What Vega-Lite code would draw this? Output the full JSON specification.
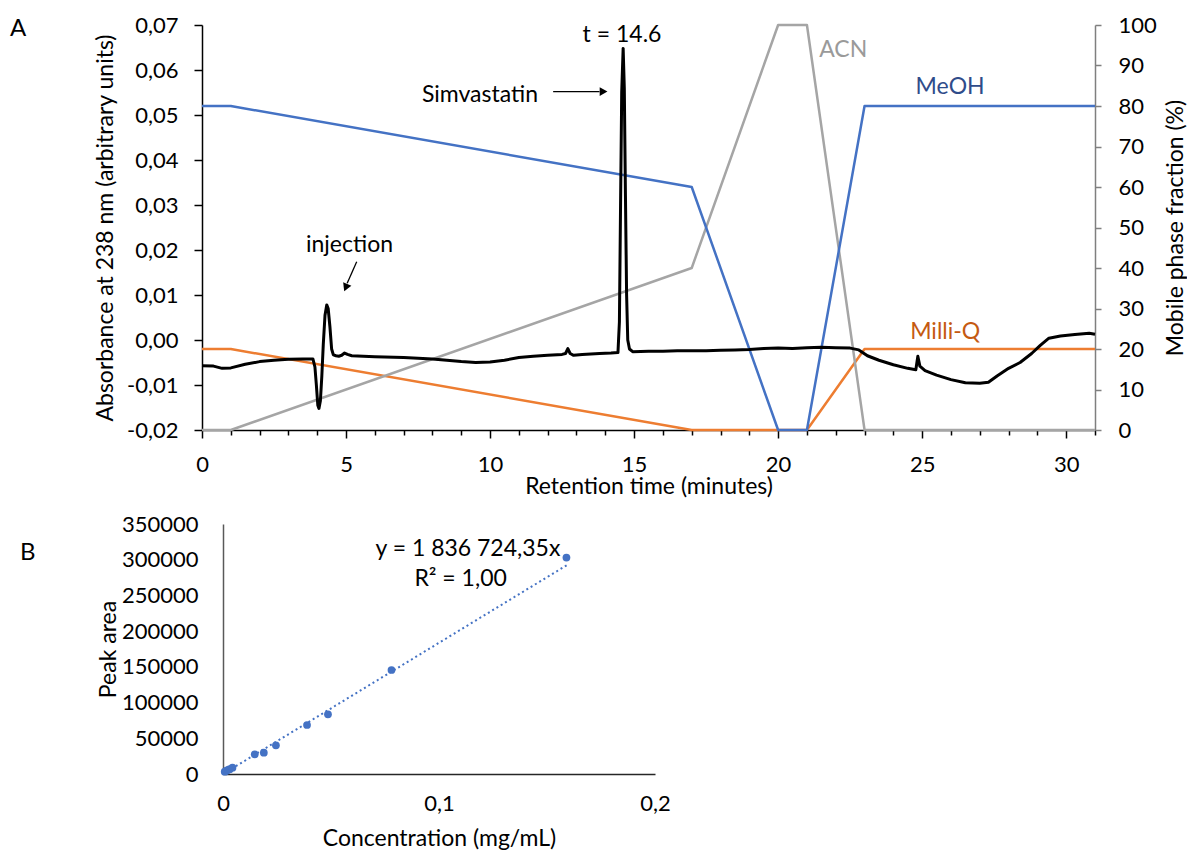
{
  "$schema": "https://vega.github.io/schema/vega-lite/v6.json",
  "padding": {"left": 10, "top": 14, "right": 0, "bottom": 0},
  "spacing": 15,
  "config": {
    "view": {"stroke": null},
    "font": "Lato",
    "axis": {"labelFont": "Lato", "titleFont": "Lato", "labelFontSize": 22, "titleFontSize": 23, "labelColor": "#000000", "titleColor": "#000000", "titleFontWeight": "normal", "grid": false, "labelOverlap": false},
    "text": {"font": "Lato", "fontSize": 23},
    "title": {"font": "Lato", "fontSize": 24, "fontWeight": "normal", "color": "#000000"}
  },
  "vconcat": [
    {
      "width": 893,
      "height": 405,
      "title": {"text": "A", "anchor": "start", "frame": "group", "orient": "top", "offset": 0, "dx": -192, "dy": 39, "baseline": "middle", "align": "left"},
      "layer": [
        {
          "encoding": {
            "x": {"field": "t", "type": "quantitative", "scale": {"domain": [0, 31], "nice": false, "zero": false},
              "axis": {"values": [0, 1, 2, 3, 4, 5, 6, 7, 8, 9, 10, 11, 12, 13, 14, 15, 16, 17, 18, 19, 20, 21, 22, 23, 24, 25, 26, 27, 28, 29, 30, 31], "labelExpr": "datum.value % 5 === 0 ? datum.label : ''", "tickSize": {"condition": {"test": "datum.value % 5 === 0", "value": 8}, "value": 5}, "labelPadding": 16, "labelFlush": false, "domainColor": "#000000", "tickColor": "#000000", "domainWidth": 1.5, "tickWidth": 1.5, "title": "Retention time (minutes)", "titleY": 56, "titleBaseline": "middle"}},
            "y": {"field": "pct", "type": "quantitative", "scale": {"domain": [0, 100], "nice": false},
              "axis": {"orient": "right", "values": [0, 10, 20, 30, 40, 50, 60, 70, 80, 90, 100], "tickSize": 6, "labelPadding": 17, "domainColor": "#7f7f7f", "tickColor": "#7f7f7f", "domainWidth": 1.5, "tickWidth": 1.5, "title": "Mobile phase fraction (%)", "titleAngle": -90, "titleX": 80, "titleY": 202.5, "titleBaseline": "middle", "titleAlign": "center"}}
          },
          "layer": [
            {
              "data": {"values": [
                {"solvent": "Milli-Q", "t": 0, "pct": 20}, {"solvent": "Milli-Q", "t": 1, "pct": 20}, {"solvent": "Milli-Q", "t": 17, "pct": 0}, {"solvent": "Milli-Q", "t": 20, "pct": 0}, {"solvent": "Milli-Q", "t": 21, "pct": 0}, {"solvent": "Milli-Q", "t": 23, "pct": 20}, {"solvent": "Milli-Q", "t": 31, "pct": 20},
                {"solvent": "ACN", "t": 0, "pct": 0}, {"solvent": "ACN", "t": 1, "pct": 0}, {"solvent": "ACN", "t": 17, "pct": 40}, {"solvent": "ACN", "t": 20, "pct": 100}, {"solvent": "ACN", "t": 21, "pct": 100}, {"solvent": "ACN", "t": 23, "pct": 0}, {"solvent": "ACN", "t": 31, "pct": 0},
                {"solvent": "MeOH", "t": 0, "pct": 80}, {"solvent": "MeOH", "t": 1, "pct": 80}, {"solvent": "MeOH", "t": 17, "pct": 60}, {"solvent": "MeOH", "t": 20, "pct": 0}, {"solvent": "MeOH", "t": 21, "pct": 0}, {"solvent": "MeOH", "t": 23, "pct": 80}, {"solvent": "MeOH", "t": 31, "pct": 80}
              ]},
              "mark": {"type": "line", "strokeWidth": 2.5, "strokeJoin": "round"},
              "encoding": {
                "color": {"field": "solvent", "type": "nominal", "scale": {"domain": ["MeOH", "ACN", "Milli-Q"], "range": ["#4472C4", "#A5A5A5", "#ED7D31"]}, "legend": null}
              }
            },
            {
              "data": {"values": [
                {"t": 22.26, "pct": 93.8, "label": "ACN"},
                {"t": 25.97, "pct": 84.7, "label": "MeOH"},
                {"t": 25.8, "pct": 24.2, "label": "Milli-Q"}
              ]},
              "mark": {"type": "text", "align": "center", "baseline": "middle"},
              "encoding": {
                "text": {"field": "label"},
                "fill": {"field": "label", "type": "nominal", "scale": {"domain": ["ACN", "MeOH", "Milli-Q"], "range": ["#9a9a9a", "#2F4C8A", "#C55A11"]}, "legend": null}
              }
            }
          ]
        },
        {
          "encoding": {
            "x": {"field": "t", "type": "quantitative", "scale": {"domain": [0, 31], "nice": false, "zero": false},
              "axis": {"values": [0, 1, 2, 3, 4, 5, 6, 7, 8, 9, 10, 11, 12, 13, 14, 15, 16, 17, 18, 19, 20, 21, 22, 23, 24, 25, 26, 27, 28, 29, 30, 31], "labelExpr": "datum.value % 5 === 0 ? datum.label : ''", "tickSize": {"condition": {"test": "datum.value % 5 === 0", "value": 8}, "value": 5}, "labelPadding": 16, "labelFlush": false, "domainColor": "#000000", "tickColor": "#000000", "domainWidth": 1.5, "tickWidth": 1.5, "title": "Retention time (minutes)", "titleY": 56, "titleBaseline": "middle"}},
            "y": {"field": "abs", "type": "quantitative", "scale": {"domain": [-0.02, 0.07], "nice": false, "zero": false},
              "axis": {"orient": "left", "values": [-0.02, -0.01, 0, 0.01, 0.02, 0.03, 0.04, 0.05, 0.06, 0.07], "labelExpr": "(datum.value < -0.0001 ? '-' : '') + replace(format(abs(datum.value), '.2f'), '.', ',')", "tickSize": 8, "labelPadding": 16, "domainColor": "#000000", "tickColor": "#000000", "domainWidth": 1.5, "tickWidth": 1.5, "title": "Absorbance at 238 nm (arbitrary units)", "titleAngle": -90, "titleX": -97, "titleY": 202.5, "titleBaseline": "middle", "titleAlign": "center"}}
          },
          "layer": [
            {
              "data": {"values": [
                {"t": 0, "abs": -0.0057}, {"t": 0.4, "abs": -0.0058}, {"t": 0.7, "abs": -0.0063}, {"t": 1.0, "abs": -0.0062}, {"t": 1.5, "abs": -0.0054}, {"t": 2.0, "abs": -0.0048}, {"t": 2.5, "abs": -0.0045}, {"t": 3.0, "abs": -0.0043}, {"t": 3.5, "abs": -0.0042}, {"t": 3.85, "abs": -0.0042},
                {"t": 3.92, "abs": -0.006}, {"t": 3.97, "abs": -0.01}, {"t": 4.02, "abs": -0.0145}, {"t": 4.06, "abs": -0.0152}, {"t": 4.11, "abs": -0.0135}, {"t": 4.16, "abs": -0.008}, {"t": 4.21, "abs": -0.001}, {"t": 4.27, "abs": 0.0055}, {"t": 4.33, "abs": 0.0078}, {"t": 4.38, "abs": 0.007}, {"t": 4.44, "abs": 0.003}, {"t": 4.5, "abs": -0.002}, {"t": 4.56, "abs": -0.0033}, {"t": 4.65, "abs": -0.0035}, {"t": 4.75, "abs": -0.0036}, {"t": 4.85, "abs": -0.0034}, {"t": 4.95, "abs": -0.0029}, {"t": 5.05, "abs": -0.0032}, {"t": 5.2, "abs": -0.0035},
                {"t": 6.0, "abs": -0.0037}, {"t": 7.0, "abs": -0.0039}, {"t": 8.0, "abs": -0.0042}, {"t": 9.0, "abs": -0.0048}, {"t": 9.5, "abs": -0.005}, {"t": 10.0, "abs": -0.0049}, {"t": 10.5, "abs": -0.0045}, {"t": 11.0, "abs": -0.0039}, {"t": 11.5, "abs": -0.0036}, {"t": 12.0, "abs": -0.0034}, {"t": 12.5, "abs": -0.0032}, {"t": 12.62, "abs": -0.003}, {"t": 12.7, "abs": -0.0019}, {"t": 12.78, "abs": -0.003}, {"t": 12.9, "abs": -0.0034}, {"t": 13.2, "abs": -0.0032}, {"t": 13.8, "abs": -0.003}, {"t": 14.2, "abs": -0.0029}, {"t": 14.44, "abs": -0.0028},
                {"t": 14.49, "abs": 0.004}, {"t": 14.53, "abs": 0.03}, {"t": 14.57, "abs": 0.055}, {"t": 14.62, "abs": 0.0648}, {"t": 14.66, "abs": 0.056}, {"t": 14.7, "abs": 0.032}, {"t": 14.74, "abs": 0.01}, {"t": 14.78, "abs": 0.0}, {"t": 14.84, "abs": -0.002}, {"t": 14.95, "abs": -0.0026},
                {"t": 15.5, "abs": -0.0025}, {"t": 16.0, "abs": -0.0025}, {"t": 16.5, "abs": -0.0024}, {"t": 17.0, "abs": -0.0024}, {"t": 17.5, "abs": -0.0024}, {"t": 18.0, "abs": -0.0023}, {"t": 18.5, "abs": -0.0022}, {"t": 19.0, "abs": -0.0021}, {"t": 19.5, "abs": -0.0019}, {"t": 20.0, "abs": -0.0018}, {"t": 20.5, "abs": -0.0019}, {"t": 21.0, "abs": -0.0017}, {"t": 21.5, "abs": -0.0016}, {"t": 22.0, "abs": -0.0017}, {"t": 22.5, "abs": -0.0018}, {"t": 22.8, "abs": -0.0022},
                {"t": 23.1, "abs": -0.0035}, {"t": 23.5, "abs": -0.0045}, {"t": 24.0, "abs": -0.0055}, {"t": 24.5, "abs": -0.0063}, {"t": 24.78, "abs": -0.0066}, {"t": 24.85, "abs": -0.0036}, {"t": 24.92, "abs": -0.0058}, {"t": 25.1, "abs": -0.0068}, {"t": 25.5, "abs": -0.0078}, {"t": 26.0, "abs": -0.0088}, {"t": 26.5, "abs": -0.0095}, {"t": 27.0, "abs": -0.0096}, {"t": 27.3, "abs": -0.0094}, {"t": 27.6, "abs": -0.008}, {"t": 28.0, "abs": -0.0063}, {"t": 28.4, "abs": -0.005}, {"t": 28.8, "abs": -0.003}, {"t": 29.1, "abs": -0.0012}, {"t": 29.4, "abs": 0.0004}, {"t": 29.8, "abs": 0.0009}, {"t": 30.3, "abs": 0.0012}, {"t": 30.8, "abs": 0.0015}, {"t": 31.0, "abs": 0.0013}
              ]},
              "mark": {"type": "line", "color": "#000000", "strokeWidth": 3, "strokeJoin": "round"}
            },
            {
              "data": {"values": [
                {"t": 14.58, "abs": 0.0678, "label": "t = 14.6"},
                {"t": 9.65, "abs": 0.0544, "label": "Simvastatin"},
                {"t": 5.12, "abs": 0.0211, "label": "injection"}
              ]},
              "mark": {"type": "text", "align": "center", "baseline": "middle", "color": "#000000"},
              "encoding": {"text": {"field": "label"}}
            },
            {
              "data": {"values": [
                {"t": 12.19, "abs": 0.0552, "t2": 13.8, "abs2": 0.0552},
                {"t": 5.37, "abs": 0.0174, "t2": 5.04, "abs2": 0.0126}
              ]},
              "mark": {"type": "rule", "color": "#000000", "strokeWidth": 1.3},
              "encoding": {"x2": {"field": "t2"}, "y2": {"field": "abs2"}}
            },
            {
              "data": {"values": [{"t": 13.94, "abs": 0.0552}]},
              "mark": {"type": "point", "shape": "triangle-right", "filled": true, "color": "#000000", "size": 80, "opacity": 1}
            },
            {
              "data": {"values": [{"t": 4.99, "abs": 0.01165}]},
              "mark": {"type": "point", "shape": "triangle-down", "angle": 23, "filled": true, "color": "#000000", "size": 80, "opacity": 1}
            }
          ]
        }
      ],
      "resolve": {"scale": {"y": "independent"}}
    },
    {
      "width": 453,
      "height": 250,
      "title": {"text": "B", "anchor": "start", "frame": "group", "orient": "top", "offset": 0, "dx": -182, "dy": 64, "baseline": "middle", "align": "left"},
      "encoding": {
        "x": {"field": "c", "type": "quantitative", "scale": {"domain": [0, 0.2], "range": [21, 453], "nice": false, "zero": false},
          "axis": {"values": [0, 0.1, 0.2], "labelExpr": "datum.value === 0 ? '0' : replace(format(datum.value, '.1f'), '.', ',')", "ticks": false, "tickSize": 0, "labelPadding": 19, "labelFlush": false, "domainColor": "#262626", "domainWidth": 1.5, "title": "Concentration (mg/mL)", "titleX": 237, "titleY": 64, "titleBaseline": "middle"}},
        "y": {"field": "a", "type": "quantitative", "scale": {"domain": [0, 350000], "nice": false},
          "axis": {"values": [0, 50000, 100000, 150000, 200000, 250000, 300000, 350000], "format": "d", "ticks": false, "tickSize": 0, "labelPadding": 25, "domainColor": "#595959", "domainWidth": 1.5, "offset": -21, "title": "Peak area", "titleAngle": -90, "titleX": -115, "titleY": 125, "titleBaseline": "middle", "titleAlign": "center"}}
      },
      "layer": [
        {
          "data": {"values": [{"c": 0, "a": 0}, {"c": 0.16, "a": 293876}]},
          "mark": {"type": "line", "color": "#4472C4", "strokeWidth": 2, "strokeDash": [2, 3]}
        },
        {
          "data": {"values": [
            {"c": 0.0008, "a": 3200}, {"c": 0.0016, "a": 4600}, {"c": 0.0024, "a": 5800}, {"c": 0.0031, "a": 6800}, {"c": 0.0044, "a": 8800},
            {"c": 0.0147, "a": 27600}, {"c": 0.0189, "a": 29800}, {"c": 0.0245, "a": 40200}, {"c": 0.0389, "a": 68600}, {"c": 0.0486, "a": 83600},
            {"c": 0.078, "a": 145600}, {"c": 0.159, "a": 303000}
          ]},
          "mark": {"type": "circle", "color": "#4472C4", "size": 60, "opacity": 1}
        },
        {
          "data": {"values": [
            {"c": 0.1134, "a": 315000, "label": "y = 1 836 724,35x"},
            {"c": 0.110, "a": 273000, "label": "R² = 1,00"}
          ]},
          "mark": {"type": "text", "align": "center", "baseline": "middle", "color": "#000000"},
          "encoding": {"text": {"field": "label"}}
        }
      ]
    }
  ]
}
